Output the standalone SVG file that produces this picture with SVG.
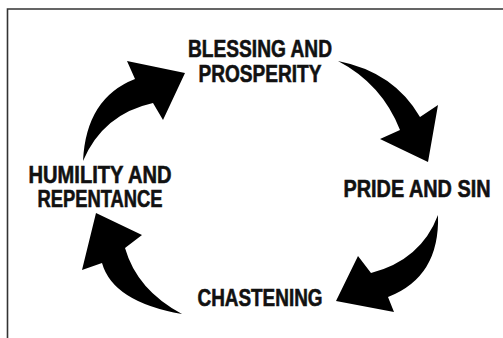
<svg xmlns="http://www.w3.org/2000/svg" width="503" height="338" viewBox="0 0 503 338">
<style>
.lbl{font-family:"Liberation Sans Narrow","Liberation Sans",Arial,sans-serif;font-weight:bold;font-size:24px;fill:#111;stroke:#111;stroke-width:0.6;text-anchor:middle}
.arr{fill:#000;stroke:none}
.frame{fill:none;stroke:#333;stroke-width:1.6}
</style>
<rect width="503" height="338" fill="#fff"/>
<path class="frame" d="M7.5 340 V9 H504"/>
<g id="connectors">
<path class="arr" d="M83 161 Q86 98 135 79 L127 61 L185 73 L163 120 L153 103 Q103 114 83 161 Z"/>
<path class="arr" d="M338 61 Q394 72 420 117 L438 105 L428 162 L380 139 L400 130 Q382 84 338 61 Z"/>
<path class="arr" d="M438 215 Q440 277 388 297 L394 312 L336 301 L358 256 L371 273 Q421 260 438 215 Z"/>
<path class="arr" d="M182 314 Q113 302 102 263 L82 270 L96 213 L142 235 L125 248 Q137 290 182 314 Z"/>
</g>
<g id="blessing">
<text class="lbl" x="260" y="57" textLength="144" lengthAdjust="spacingAndGlyphs">BLESSING AND</text>
<text class="lbl" x="260" y="82" textLength="123" lengthAdjust="spacingAndGlyphs">PROSPERITY</text>
</g>
<g id="pride">
<text class="lbl" x="417" y="197" textLength="147" lengthAdjust="spacingAndGlyphs">PRIDE AND SIN</text>
</g>
<g id="chastening">
<text class="lbl" x="260" y="306" textLength="125" lengthAdjust="spacingAndGlyphs">CHASTENING</text>
</g>
<g id="humility">
<text class="lbl" x="100" y="183" textLength="143" lengthAdjust="spacingAndGlyphs">HUMILITY AND</text>
<text class="lbl" x="100" y="207" textLength="125" lengthAdjust="spacingAndGlyphs">REPENTANCE</text>
</g>
</svg>
